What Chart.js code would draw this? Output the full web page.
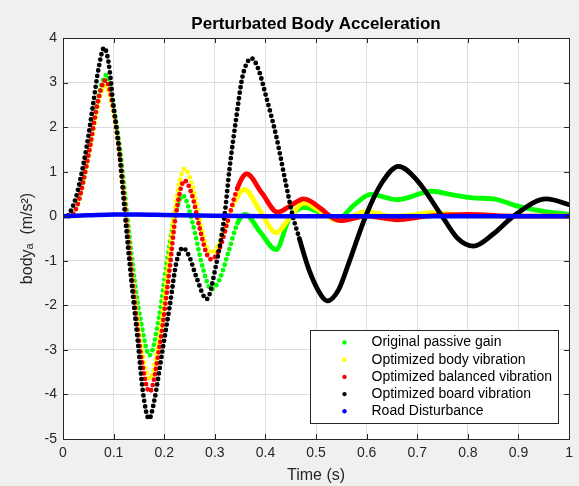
<!DOCTYPE html>
<html>
<head>
<meta charset="utf-8">
<script src="https://cdn.jsdelivr.net/npm/chart.js@4.4.1/dist/chart.umd.min.js"></script>
<style>
  html, body { margin: 0; padding: 0; background: #f0f0f0; }
  #wrap { width: 579px; height: 486px; }
</style>
</head>
<body>
<div id="wrap"><canvas id="myChart" width="579" height="486"></canvas></div>
<script>
// series, time in s, acceleration in m/s^2
const chartTitle = 'Perturbated Body Acceleration';
const seriesNames = ['Original passive gain', 'Optimized body vibration', 'Optimized balanced vibration', 'Optimized board vibration', 'Road Disturbance'];
const seriesColors = ['#00ff00', '#ffff00', '#ff0000', '#000000', '#0000ff'];

const passiveTime = [0, 0.01, 0.02, 0.03, 0.04, 0.054, 0.066, 0.076, 0.086, 0.1, 0.113, 0.127, 0.142, 0.152, 0.171, 0.19, 0.205, 0.22, 0.237, 0.256, 0.276, 0.293, 0.31, 0.327, 0.345, 0.36, 0.39, 0.421, 0.447, 0.476, 0.51, 0.545, 0.575, 0.608, 0.66, 0.729, 0.77, 0.81, 0.85, 0.9, 0.95, 1.0];
const passiveValues = [0, 0, 0.05, 0.3, 0.76, 1.58, 2.45, 2.95, 3.17, 2.45, 1.45, 0, -1.49, -2.24, -3.12, -2.25, -1.05, -0.05, 0.46, -0.15, -1.15, -1.64, -1.4, -0.8, -0.15, 0.04, -0.36, -0.75, -0.05, 0.2, 0.08, -0.04, 0.25, 0.49, 0.37, 0.56, 0.48, 0.41, 0.39, 0.22, 0.11, 0.04];

const bodyTime = [0, 0.01, 0.02, 0.03, 0.04, 0.054, 0.066, 0.075, 0.084, 0.1, 0.112, 0.124, 0.14, 0.155, 0.171, 0.191, 0.206, 0.222, 0.24, 0.255, 0.27, 0.283, 0.293, 0.31, 0.325, 0.34, 0.358, 0.39, 0.421, 0.448, 0.476, 0.51, 0.54, 0.57, 0.6, 0.65, 0.69, 0.73, 0.8, 0.9, 1.0];
const bodyValues = [0, 0, 0.05, 0.3, 0.76, 1.55, 2.3, 2.75, 2.92, 2.3, 1.35, 0.05, -1.65, -2.95, -3.65, -2.65, -1.2, 0.25, 1.06, 0.71, -0.08, -0.66, -0.82, -0.59, -0.13, 0.34, 0.6, 0.11, -0.37, -0.03, 0.3, 0.1, -0.09, 0.0, 0.11, 0.0, 0.03, 0.08, 0.01, 0.0, 0.0];

const balancedTime = [0, 0.01, 0.02, 0.03, 0.04, 0.054, 0.066, 0.075, 0.084, 0.1, 0.112, 0.124, 0.14, 0.155, 0.171, 0.191, 0.211, 0.222, 0.24, 0.255, 0.27, 0.283, 0.293, 0.31, 0.328, 0.345, 0.363, 0.393, 0.424, 0.45, 0.476, 0.512, 0.528, 0.548, 0.6, 0.66, 0.72, 0.8, 0.9, 1.0];
const balancedValues = [0, 0, 0.05, 0.3, 0.78, 1.6, 2.4, 2.85, 3.05, 2.4, 1.4, 0.05, -1.75, -3.2, -3.94, -2.9, -1.15, -0.05, 0.8, 0.47, -0.27, -0.82, -0.97, -0.71, -0.01, 0.64, 0.95, 0.52, 0.09, 0.24, 0.39, 0.15, 0.0, -0.1, 0.0, -0.08, 0.0, 0.04, 0.0, 0.0];

const boardTime = [0, 0.008, 0.014, 0.025, 0.033, 0.047, 0.06, 0.07, 0.0813, 0.09, 0.099, 0.112, 0.122, 0.129, 0.139, 0.148, 0.158, 0.17, 0.181, 0.197, 0.211, 0.224, 0.237, 0.25, 0.263, 0.284, 0.302, 0.319, 0.329, 0.342, 0.355, 0.373, 0.386, 0.401, 0.421, 0.44, 0.453, 0.467, 0.486, 0.506, 0.522, 0.545, 0.565, 0.598, 0.63, 0.663, 0.7, 0.749, 0.78, 0.811, 0.85, 0.89, 0.955, 1.0];
const boardValues = [0, 0, 0.09, 0.4, 0.76, 1.58, 2.55, 3.3, 3.78, 3.45, 2.55, 1.36, 0.09, -0.75, -1.87, -2.83, -3.95, -4.55, -4.1, -2.98, -2.01, -1.04, -0.71, -0.92, -1.35, -1.86, -1.12, 0, 1.06, 2.18, 3.15, 3.54, 3.3, 2.7, 1.81, 0.75, 0.05, -0.5, -1.2, -1.7, -1.9, -1.64, -1.04, 0, 0.75, 1.12, 0.8, 0, -0.5, -0.67, -0.4, 0, 0.39, 0.26];

const roadTime = [0, 0.05, 0.1, 0.15, 0.2, 0.3, 0.4, 0.6, 0.8, 1.0];
const roadValues = [0, 0.02, 0.04, 0.04, 0.03, 0.01, 0, 0, 0, 0];

const xTicks = [0, 0.1, 0.2, 0.3, 0.4, 0.5, 0.6, 0.7, 0.8, 0.9, 1];
const yTicks = [4, 3, 2, 1, 0, -1, -2, -3, -4, -5];

// where the solver markers stop looking like separate dots
const dottedUntil = [0.33, 0.33, 0.33, 0.46, 0];

const timeSets = [passiveTime, bodyTime, balancedTime, boardTime, roadTime];
const valueSets = [passiveValues, bodyValues, balancedValues, boardValues, roadValues];
// later series are drawn on top, like MATLAB
const drawOrder = [4, 3, 2, 1, 0];

const datasets = seriesNames.map((name, i) => ({
    label: name,
    data: timeSets[i].map((t, k) => ({x: t, y: valueSets[i][k]})),
    borderColor: seriesColors[i],
    backgroundColor: seriesColors[i],
    borderWidth: i === 4 ? 4.5 : 4.8,
    borderCapStyle: 'round',
    borderJoinStyle: 'round',
    borderDash: [],
    pointRadius: 0,
    fill: false,
    cubicInterpolationMode: 'monotone',
    order: drawOrder[i],
    segment: {
        borderDash: ctx => ctx.p0.parsed.x < dottedUntil[i] ? [0, 5.5] : undefined
    }
}));

const axisColor = '#262626';
const fontFamily = '"Liberation Sans", Arial, sans-serif';

// white axes face, title over the axes, box, inward ticks and the legend inside the axes
const matlabAxes = {
    id: 'matlabAxes',
    beforeDraw(chart) {
        const {ctx, chartArea: a} = chart;
        ctx.save();
        ctx.fillStyle = '#ffffff';
        ctx.fillRect(a.left, a.top, a.right - a.left, a.bottom - a.top);
        ctx.fillStyle = '#000000';
        ctx.font = 'bold 17px ' + fontFamily;
        ctx.textAlign = 'center';
        ctx.textBaseline = 'middle';
        ctx.fillText(chartTitle, (a.left + a.right) / 2, 24);
        ctx.restore();
    },
    afterDatasetsDraw(chart) {
        const {ctx, chartArea: a, scales} = chart;
        ctx.save();
        ctx.strokeStyle = axisColor;
        ctx.lineWidth = 1;
        ctx.beginPath();
        xTicks.forEach(v => {
            const px = Math.round(scales.x.getPixelForValue(v)) + 0.5;
            ctx.moveTo(px, a.bottom); ctx.lineTo(px, a.bottom - 5);
            ctx.moveTo(px, a.top); ctx.lineTo(px, a.top + 5);
        });
        yTicks.forEach(v => {
            const py = Math.round(scales.y.getPixelForValue(v)) + 0.5;
            ctx.moveTo(a.left, py); ctx.lineTo(a.left + 5, py);
            ctx.moveTo(a.right, py); ctx.lineTo(a.right - 5, py);
        });
        ctx.stroke();
        ctx.strokeRect(Math.round(a.left) + 0.5, Math.round(a.top) + 0.5, Math.round(a.right - a.left), Math.round(a.bottom - a.top));

        // legend
        const bx = Math.round(a.right - 259) + 0.5, by = Math.round(a.bottom - 109) + 0.5;
        const bw = 248, bh = 93;
        ctx.fillStyle = '#ffffff';
        ctx.fillRect(bx, by, bw, bh);
        ctx.strokeStyle = '#262626';
        ctx.strokeRect(bx, by, bw, bh);
        ctx.font = '14px ' + fontFamily;
        ctx.textBaseline = 'middle';
        seriesNames.forEach((name, i) => {
            const ry = by + 12 + i * 17.2;
            ctx.fillStyle = seriesColors[i];
            ctx.beginPath();
            ctx.arc(bx + 34, ry, 2.2, 0, Math.PI * 2);
            ctx.fill();
            ctx.fillStyle = '#000000';
            ctx.fillText(name, bx + 61, ry);
        });
        ctx.restore();
    }
};

const ctx = document.getElementById('myChart').getContext('2d');

const myChart = new Chart(ctx, {
    type: 'line',
    data: { datasets: datasets },
    options: {
        responsive: false,
        animation: false,
        devicePixelRatio: 1,
        layout: { padding: { left: 0, right: 8, top: 38, bottom: 0 } },
        scales: {
            x: {
                type: 'linear',
                min: 0,
                max: 1,
                afterFit: s => { s.height = 47; },
                afterBuildTicks: s => { s.ticks = xTicks.map(v => ({value: v})); },
                ticks: {
                    padding: 6,
                    color: axisColor,
                    maxRotation: 0,
                    font: { family: fontFamily, size: 14 },
                    callback: v => String(Math.round(v * 10) / 10)
                },
                grid: { color: '#dedede', drawTicks: false },
                border: { display: false },
                title: {
                    display: true,
                    text: 'Time (s)',
                    color: axisColor,
                    padding: { top: 0, bottom: 1 },
                    font: { family: fontFamily, size: 16 }
                }
            },
            y: {
                min: -5,
                max: 4,
                afterFit: s => { s.width = 63; },
                afterBuildTicks: s => { s.ticks = yTicks.map(v => ({value: v})); },
                ticks: {
                    padding: 6,
                    color: axisColor,
                    font: { family: fontFamily, size: 14 }
                },
                grid: { color: '#dedede', drawTicks: false },
                border: { display: false },
                title: {
                    display: true,
                    text: 'bodyₐ  (m/s²)',
                    color: axisColor,
                    padding: { top: 18, bottom: 0 },
                    font: { family: fontFamily, size: 16 }
                }
            }
        },
        plugins: {
            legend: { display: false },
            tooltip: { enabled: false },
            title: { display: false }
        }
    },
    plugins: [matlabAxes]
});
</script>
</body>
</html>
